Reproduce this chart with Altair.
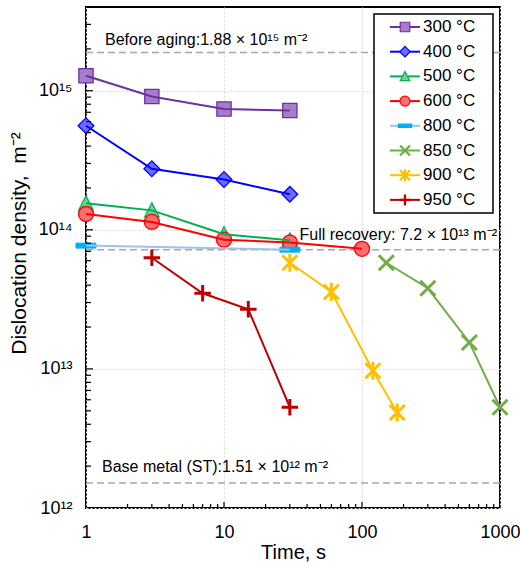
import altair as alt
import pandas as pd

# ---------------- data ----------------
series = ["300 °C", "400 °C", "500 °C", "600 °C", "800 °C", "850 °C", "900 °C", "950 °C"]

t_300 = [1, 3, 10, 30]
d_300 = [1.28e15, 9.1e14, 7.4e14, 7.2e14]
t_400 = [1, 3, 10, 30]
d_400 = [5.6e14, 2.75e14, 2.3e14, 1.8e14]
t_500 = [1, 3, 10, 30]
d_500 = [1.55e14, 1.38e14, 9.3e13, 8.4e13]
t_600 = [1, 3, 10, 30, 100]
d_600 = [1.3e14, 1.14e14, 8.5e13, 8.1e13, 7.3e13]
t_800 = [1, 30]
d_800 = [7.7e13, 7.2e13]
t_850 = [150, 300, 600, 1000]
d_850 = [5.8e13, 3.8e13, 1.55e13, 5.3e12]
t_900 = [30, 60, 120, 180]
d_900 = [5.8e13, 3.57e13, 9.7e12, 4.85e12]
t_950 = [3, 7, 15, 30]
d_950 = [6.3e13, 3.5e13, 2.68e13, 5.3e12]

ref_values = [1.88e15, 7.2e13, 1.51e12]
ref_labels = ["Before aging:1.88 × 10¹⁵ m⁻²",
              "Full recovery: 7.2 × 10¹³ m⁻²",
              "Base metal (ST):1.51 × 10¹² m⁻²"]

x_tick_values = [1, 10, 100, 1000]
x_tick_labels = ["1", "10", "100", "1000"]
y_tick_values = [1e12, 1e13, 1e14, 1e15]
y_tick_labels = ["10¹²", "10¹³", "10¹⁴", "10¹⁵"]

# ---------------- styles ----------------
line_colors = ["#7030A0", "#0000FF", "#00B050", "#FF0000", "#9DC3E6", "#70AD47", "#FFC000", "#C00000"]
stroke_colors = ["#7030A0", "#0000FF", "#00B050", "#FF0000", "#00B0F0", "#70AD47", "#FFC000", "#C00000"]
fill_colors = ["#A57DCC", "#6B6BFF", "#73D196", "#FF6F6F", "#00B0F0", "#70AD47", "#FFC000", "#C00000"]
marker_stroke_widths = [1.3, 1.3, 1.3, 1.3, 1, 3, 3, 3]

marker_geom = [
    ("poly", [[(-0.95, -0.95), (0.95, -0.95), (0.95, 0.95), (-0.95, 0.95)]], True),
    ("poly", [[(0, -1.05), (1.05, 0), (0, 1.05), (-1.05, 0)]], True),
    ("poly", [[(0, -1.0), (0.95, 0.85), (-0.95, 0.85)]], True),
    ("circle", 1.0, True),
    ("poly", [[(-1.33, -0.33), (1.33, -0.33), (1.33, 0.33), (-1.33, 0.33)]], True),
    ("poly", [[(-1, -1), (1, 1)], [(-1, 1), (1, -1)]], False),
    ("poly", [[(-1, -1), (1, 1)], [(-1, 1), (1, -1)], [(0, -1.2), (0, 1.2)]], False),
    ("poly", [[(-1.1, 0), (1.1, 0)], [(0, -1.1), (0, 1.1)]], False),
]


def geom_path(g, k):
    kind, data, closed = g
    if kind == "circle":
        r = data * k
        return f"M{-r:.3f},0A{r:.3f},{r:.3f} 0 1,0 {r:.3f},0A{r:.3f},{r:.3f} 0 1,0 {-r:.3f},0Z"
    out = ""
    for poly in data:
        out += "M" + "L".join(f"{x * k:.3f},{y * k:.3f}" for x, y in poly) + ("Z" if closed else "")
    return out


marker_paths = [geom_path(g, 1.0) for g in marker_geom]

FONT = "Liberation Sans"
W, H = 414, 501

rows = []
all_t = [t_300, t_400, t_500, t_600, t_800, t_850, t_900, t_950]
all_d = [d_300, d_400, d_500, d_600, d_800, d_850, d_900, d_950]
for s, ts, ds in zip(series, all_t, all_d):
    for t, d in zip(ts, ds):
        rows.append({"series": s, "t": t, "d": d})
df = pd.DataFrame(rows)

x_scale = alt.Scale(type="log", domain=[1, 1000], padding=0, nice=False)
y_scale = alt.Scale(type="log", domain=[1e12, 4e15], padding=0, nice=False)

x_label_expr = "[" + ",".join(f"'{l}'" for l in x_tick_labels) + "][round(log(datum.value)/LN10)]"
y_label_expr = "[" + ",".join(f"'{l}'" for l in y_tick_labels) + "][round(log(datum.value)/LN10) - 12]"

Y_TITLE = "Dislocation density,\u00a0 m⁻²"

x_axis = alt.Axis(values=x_tick_values, labelExpr=x_label_expr, title="Time, s",
                  labelFontSize=18, titleFontSize=20, labelPadding=15, titlePadding=1,
                  labelFlush=False, grid=True)
y_axis = alt.Axis(values=y_tick_values, labelExpr=y_label_expr, title=Y_TITLE,
                  labelFontSize=18, titleFontSize=21, labelPadding=14, titlePadding=9,
                  labelFlush=False, titleY=236, grid=True)

X = alt.X("t:Q", scale=x_scale, axis=x_axis, title="Time, s")
Y = alt.Y("d:Q", scale=y_scale, axis=y_axis, title=Y_TITLE)

refs = alt.Chart(pd.DataFrame({"d": ref_values})).mark_rule(
    strokeDash=[7, 4], color="#A6A6A6", strokeWidth=1.5
).encode(y=Y)


def ref_text(i, align, dx, dy, size):
    return alt.Chart(pd.DataFrame({"d": [ref_values[i]], "label": [ref_labels[i]],
                                   "t": [x_tick_values[0] if align == "left" else x_tick_values[-1]]})
                     ).mark_text(align=align, baseline="middle", dx=dx, dy=dy, fontSize=size,
                                 font=FONT, color="black").encode(x=X, y=Y, text="label:N")


txt1 = ref_text(0, "left", 19, -13, 16)
txt2 = ref_text(1, "right", -3, -15, 16)
txt3 = ref_text(2, "left", 16, -16, 16)

line_color_scale = alt.Scale(domain=series, range=line_colors)

lines = alt.Chart(df).mark_line(strokeWidth=2).encode(
    x=X, y=Y,
    color=alt.Color("series:N", scale=line_color_scale, legend=None),
    order="t:Q",
)

point_layers = []
for i, s in enumerate(series):
    point_layers.append(
        alt.Chart(df).transform_filter(alt.datum.series == s).mark_point(
            shape=marker_paths[i], size=225, filled=True, fill=fill_colors[i],
            stroke=stroke_colors[i], strokeWidth=marker_stroke_widths[i],
            opacity=1, fillOpacity=1,
        ).encode(x=X, y=Y)
    )

x_minor = [k * 10 ** n for n in range(0, 3) for k in range(2, 10)]
x_major = [10, 100]
y_minor = [k * 10 ** n for n in range(12, 16) for k in range(2, 10) if k * 10 ** n <= 4e15]
y_major = [1e13, 1e14, 1e15]

xt_minor = alt.Chart(pd.DataFrame({"t": x_minor})).mark_rule(color="black", strokeWidth=1.2).encode(
    x=X, y=alt.value(H - 4), y2=alt.value(H))
xt_major = alt.Chart(pd.DataFrame({"t": x_major})).mark_rule(color="black", strokeWidth=1.2).encode(
    x=X, y=alt.value(H - 6), y2=alt.value(H))
yt_minor = alt.Chart(pd.DataFrame({"d": y_minor})).mark_rule(color="black", strokeWidth=1.2).encode(
    y=Y, x=alt.value(0), x2=alt.value(5))
yt_major = alt.Chart(pd.DataFrame({"d": y_major})).mark_rule(color="black", strokeWidth=1.2).encode(
    y=Y, x=alt.value(0), x2=alt.value(7))

# ---------------- legend (drawn as a small key box inside the plot) ----------------
series_js = "[" + ",".join(f"'{s}'" for s in series) + "]"
leg_base = alt.Chart(pd.DataFrame({"series": series})).transform_calculate(
    ly=f"20 + 24.7 * indexof({series_js}, datum.series)"
)
LY = alt.Y("ly:Q", scale=None, axis=None)

leg_box = alt.Chart(pd.DataFrame({"series": [series[0]]})).mark_rect(
    fill="white", stroke="black", strokeWidth=1.5
).encode(x=alt.value(288), x2=alt.value(407), y=alt.value(7), y2=alt.value(206))

leg_lines = leg_base.mark_rule(strokeWidth=2).encode(
    x=alt.value(304), x2=alt.value(334), y=LY,
    color=alt.Color("series:N", scale=line_color_scale, legend=None),
)

leg_pts = leg_base.mark_point(size=100, opacity=1, filled=True).encode(
    x=alt.value(319), y=LY,
    shape=alt.Shape("series:N", scale=alt.Scale(domain=series, range=marker_paths), legend=None),
    fill=alt.Fill("series:N", scale=alt.Scale(domain=series, range=fill_colors), legend=None),
    stroke=alt.Stroke("series:N", scale=alt.Scale(domain=series, range=stroke_colors), legend=None),
    strokeWidth=alt.condition(f"indexof({series_js}, datum.series) >= 5",
                              alt.value(2.3), alt.value(1.2)),
)

leg_txt = leg_base.mark_text(align="left", baseline="middle", fontSize=17, font=FONT,
                             color="black").encode(x=alt.value(337), y=LY, text="series:N")

chart = alt.layer(
    refs, *point_layers, lines, txt1, txt2, txt3, xt_minor, xt_major, yt_minor, yt_major,
    leg_box, leg_lines, leg_pts, leg_txt
).properties(
    width=W, height=H,
    autosize=alt.AutoSizeParams(type="none"),
    padding={"left": 86, "top": 7, "right": 20, "bottom": 57},
).configure_view(
    stroke="black", strokeWidth=2
).configure_axis(
    domain=False, ticks=False, labelFont=FONT, titleFont=FONT, labelColor="black",
    titleColor="black", titleFontWeight="normal", gridColor="#D9D9D9", gridDash=[2, 2],
    gridWidth=1,
)

chart.save("out.html", embed_options={"renderer": "svg", "actions": False})
